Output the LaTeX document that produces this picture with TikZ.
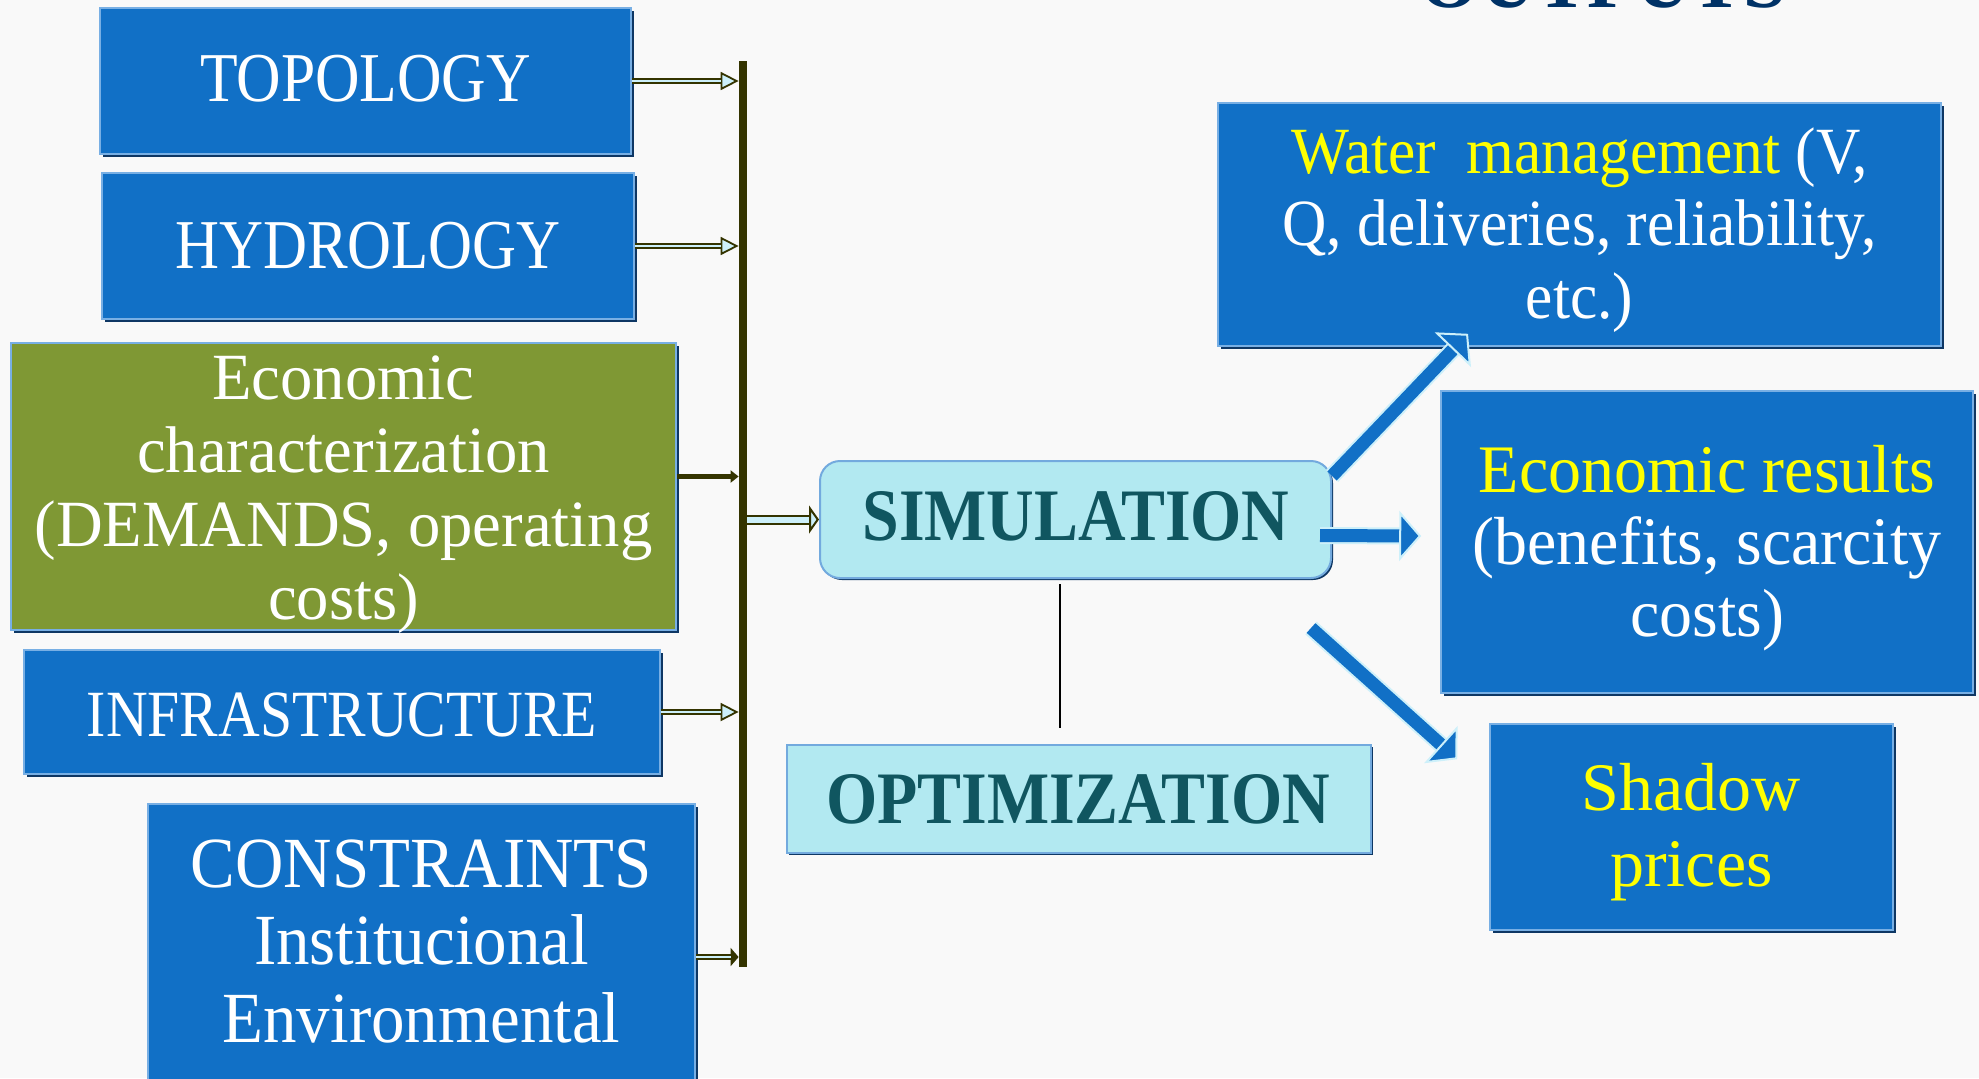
\documentclass[tikz,border=0pt]{standalone}
\usepackage{fontspec}
\setmainfont{Liberation Serif}
\usetikzlibrary{arrows.meta,shadows}
\definecolor{bgc}{RGB}{249,249,249}
\definecolor{bblue}{RGB}{17,112,198}
\definecolor{bgreen}{RGB}{127,152,52}
\definecolor{shd}{RGB}{14,55,100}
\definecolor{edge}{RGB}{120,175,228}
\definecolor{simf}{RGB}{178,233,241}
\definecolor{simedge}{RGB}{115,170,222}
\definecolor{simt}{RGB}{16,86,96}
\definecolor{olv}{RGB}{52,52,0}
\definecolor{lcy}{RGB}{205,240,250}
\definecolor{ttl}{RGB}{0,50,102}
\definecolor{yel}{RGB}{255,255,0}
\newcommand\fnt[3]{\fontsize{#1}{#2}\selectfont\addfontfeature{FakeStretch=#3}}
\newcommand\blockarrow[2]{%
  \draw[bshaft] #1 -- #2;
  \draw[bcore, bhead] #1 -- #2;}
\begin{document}
\begin{tikzpicture}[x=0.5pt,y=-0.5pt,
  shbox/.style={rectangle, inner sep=0pt, draw=edge, line width=0.8pt,
    drop shadow={shadow xshift=1.6pt,shadow yshift=-1.6pt,fill=shd,opacity=1}},
  bluebox/.style={shbox, fill=bblue},
  greenbox/.style={shbox, fill=bgreen},
  cyanbox/.style={rectangle, inner sep=0pt, fill=simf, draw=simedge, line width=1pt,
    drop shadow={shadow xshift=1pt,shadow yshift=-1pt,fill=shd,opacity=1}},
  txt/.style={inner sep=0pt, text=white, align=center},
  dshaft/.style={olv, line width=3pt},
  dcore/.style={lcy, line width=1pt},
  opentip/.style={-{Triangle[length=9pt,width=9pt,line width=0.9pt,fill=lcy]}},
  bshaft/.style={lcy, line width=8.5pt, shorten >=10pt},
  bcore/.style={bblue, line width=6.5pt},
  bhead/.style={-{Triangle[length=11pt,width=25pt,line width=1pt,fill=bblue,color=lcy]}}
]
\useasboundingbox (0,0) rectangle (1979,1078);
\clip (0,0) rectangle (1979,1078);
\fill[bgc] (0,0) rectangle (1979,1078);

% title (cut off at the top, as in the original)
\node[anchor=base, inner sep=0pt, text=ttl, font={\bfseries\fnt{40}{44}{0.97}}] (title) at (1603,7) {OUTPUTS};

% input boxes
\node[bluebox, minimum width=265.5pt, minimum height=73pt] (topo) at (365.5,81) {};
\node[bluebox, minimum width=266pt, minimum height=73pt] (hydro) at (368,246) {};
\node[greenbox, minimum width=332.5pt, minimum height=143.5pt] (econ) at (343.5,486.5) {};
\node[bluebox, minimum width=318pt, minimum height=62pt] (infra) at (342,712) {};
\node[bluebox, minimum width=273.5pt, minimum height=153pt] (cons) at (421.5,957) {};

\node[txt, anchor=base, font={\fnt{35}{40}{0.88}}] (topoT) at (365.5,101) {TOPOLOGY};
\node[txt, anchor=base, font={\fnt{35}{40}{0.87}}] (hydroT) at (368,268) {HYDROLOGY};
\node[txt, anchor=north, font={\fnt{33}{36.75}{0.98}}] (econT) at (343.5,347.5)
  {\strut Economic\\\strut characterization\\\strut (DEMANDS, operating\\\strut costs)};
\node[txt, anchor=base, font={\fnt{33}{38}{0.875}}] (infraT) at (342,736) {INFRASTRUCTURE};
\node[txt, anchor=north, font={\fnt{36}{38.75}{0.93}}] (consT) at (421.5,832.75)
  {\strut CONSTRAINTS\\\strut Institucional\\\strut Environmental};

% collector bar
\node[rectangle, fill=olv, inner sep=0pt, minimum width=4pt, minimum height=453pt] (bar) at (743,514) {};

% arrows into the bar
\draw[dshaft, opentip] (topo.east) -- (bar.west |- topo.east);
\draw[dcore, shorten >=9pt] (topo.east) -- (bar.west |- topo.east);
\draw[dshaft, opentip] (hydro.east) -- (bar.west |- hydro.east);
\draw[dcore, shorten >=9pt] (hydro.east) -- (bar.west |- hydro.east);
\coordinate (ecA) at ([yshift=5pt]econ.east);
\draw[olv, line width=2.5pt, -{Triangle[length=4pt,width=6pt]}] (ecA) -- (bar.west |- ecA);
\draw[dshaft, opentip] (infra.east) -- (bar.west |- infra.east);
\draw[dcore, shorten >=9pt] (infra.east) -- (bar.west |- infra.east);
\draw[dshaft, -{Triangle[length=4pt,width=9pt]}] (cons.east) -- (bar.west |- cons.east);
\draw[dcore, shorten >=4pt] (cons.east) -- (bar.west |- cons.east);

% simulation / optimization
\node[cyanbox, rounded corners=10pt, minimum width=255.5pt, minimum height=58.5pt] (sim) at (1075.5,519.5) {};
\node[cyanbox, minimum width=292pt, minimum height=54pt] (opt) at (1079,799) {};
\node[inner sep=0pt, anchor=base, text=simt, font={\bfseries\fnt{37}{40}{0.89}}] (simT) at (1076,540) {SIMULATION};
\node[inner sep=0pt, anchor=base, text=simt, font={\bfseries\fnt{37}{40}{0.89}}] (optT) at (1078,823) {OPTIMIZATION};

\draw[olv, line width=5pt, -{Triangle[length=5pt,width=14pt,line width=1pt,fill=lcy]}] (bar.east |- sim.west) -- (sim.west);
\draw[lcy, line width=3pt, shorten >=5pt] (bar.east |- sim.west) -- (sim.west);

\draw[black, line width=1pt] ([xshift=-7.75pt,yshift=-2.5pt]sim.south) -- ([xshift=-9.5pt,yshift=8pt]opt.north);

% output boxes
\node[bluebox, minimum width=361.5pt, minimum height=121.5pt] (water) at (1579.5,224.5) {};
\node[bluebox, minimum width=266pt, minimum height=151pt] (econres) at (1707,542) {};
\node[bluebox, minimum width=201.5pt, minimum height=103pt] (shadow) at (1691.5,827) {};

\node[txt, anchor=north, font={\fnt{33}{36.25}{0.93}}] (waterT) at (1579.5,122.25)
  {\strut\textcolor{yel}{Water\ \ management} (V,\\\strut Q, deliveries, reliability,\\\strut etc.)};
\node[txt, anchor=north, font={\fnt{34}{36}{0.97}}] (econresT) at (1707,441.6)
  {\strut\textcolor{yel}{Economic results}\\\strut (benefits, scarcity\\\strut costs)};
\node[txt, anchor=north, text=yel, font={\fnt{34}{38}{1}}] (shadowT) at (1691.5,756.8)
  {\strut Shadow\\\strut prices};

% block arrows to outputs
\blockarrow{([yshift=-8pt]sim.north east)}{([xshift=-55.75pt,yshift=6.5pt]water.south)}
\blockarrow{([xshift=-6pt,yshift=-8pt]sim.east)}{([xshift=-9.5pt,yshift=3pt]econres.west)}
\blockarrow{([xshift=-10.5pt,yshift=-24.5pt]sim.south east)}{([xshift=-16pt,yshift=-18pt]shadow.north west)}
\end{tikzpicture}
\end{document}
